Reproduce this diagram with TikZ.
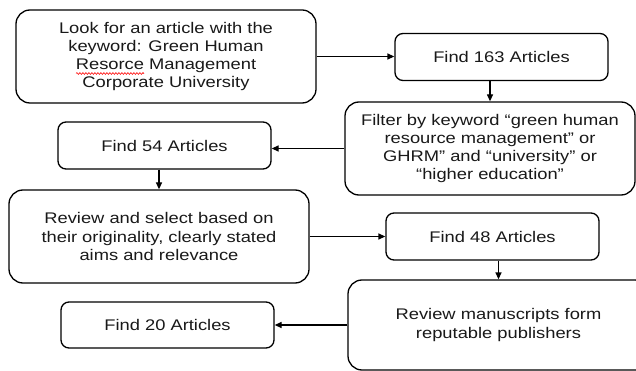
\documentclass[tikz,border=0pt]{standalone}
\usepackage{fontspec}
\setmainfont{Liberation Sans}[FakeStretch=1.19]
\usetikzlibrary{arrows.meta,decorations.pathmorphing}
\begin{document}
\begin{tikzpicture}[x=1pt,y=-1pt,
  box/.style={draw, line width=1.3pt, rounded corners=14pt, align=center,
    inner sep=0pt, font=\fontsize{15.4}{18.3}\selectfont, text=black!90},
  small/.style={box, rounded corners=8pt, minimum width=213pt, minimum height=47pt},
  big/.style={box, minimum width=300pt, minimum height=93pt},
  conn/.style={line width=1.3pt, -{Triangle[length=7pt,width=6pt]}},
  squiggle/.style={red, line width=0.6pt, decorate, decoration={snake, amplitude=0.9pt, segment length=3pt}}]
\clip (0,0) rectangle (636,371);
\fill[white] (0,0) rectangle (636,371);
\node[big] (b1) at (166,56.5) {Look for an article with the\\keyword: Green Human\\Resorce Management\\Corporate University};
\node[small] (f163) at (501.5,57) {Find 163 Articles};
\node[big, minimum width=290pt] (filt) at (490,148.5) {Filter by keyword “green human\\resource management” or\\GHRM” and “university” or\\“higher education”};
\node[small] (f54) at (164.5,145.5) {Find 54 Articles};
\node[big] (rev) at (159,236.5) {Review and select based on\\their originality, clearly stated\\aims and relevance};
\node[small] (f48) at (492.5,236.5) {Find 48 Articles};
\node[big, minimum width=301pt, minimum height=90pt] (ms) at (498.5,325) {Review manuscripts form\\reputable publishers};
\node[small, minimum height=46pt] (f20) at (167.5,325) {Find 20 Articles};
\draw[conn] (b1.east) -- (b1.east -| f163.west);
\draw[conn] (filt.north |- f163.south) -- (filt.north);
\draw[conn] (filt.west) -- (filt.west -| f54.east);
\draw[conn] (rev.north |- f54.south) -- (rev.north);
\draw[conn] (rev.east) -- (rev.east -| f48.west);
\draw[conn] (ms.north |- f48.south) -- (ms.north);
\draw[conn] (ms.west) -- (ms.west -| f20.east);
\draw[squiggle] (76,73.5) -- (144,73.5);
\end{tikzpicture}
\end{document}
